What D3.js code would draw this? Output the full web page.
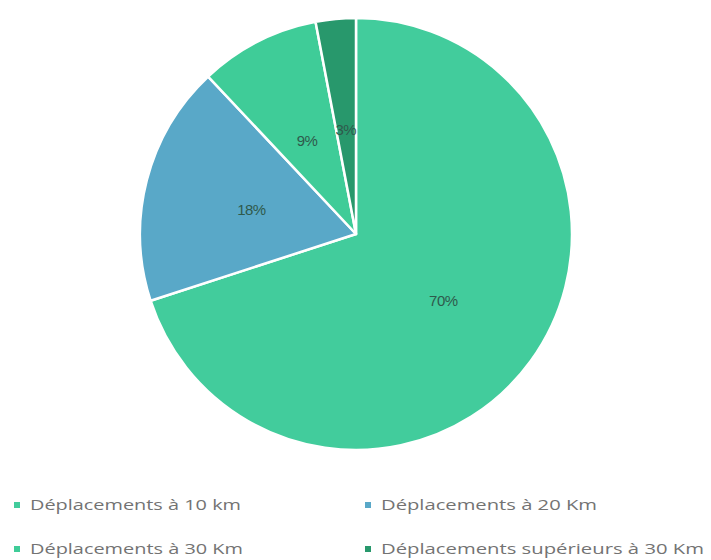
<!DOCTYPE html>
<html>
<head>
<meta charset="utf-8">
<script src="https://cdn.jsdelivr.net/npm/d3@7"></script>
<style>
  html, body { margin: 0; padding: 0; background: #ffffff; }
  svg { display: block; }
</style>
</head>
<body>
<svg id="chart" width="711" height="560"></svg>
<script>
// Trip distance shares
const categories = [
  "Déplacements à 10 km",
  "Déplacements à 20 Km",
  "Déplacements à 30 Km",
  "Déplacements supérieurs à 30 Km"
];
const values = [70, 18, 9, 3];
const labels = ["70%", "18%", "9%", "3%"];
const colors = ["#42cc9c", "#59a8c8", "#3fcc98", "#28986c"];

const svg = d3.select("#chart");
const cx = 356, cy = 234, radius = 216;

const data = categories.map((c, i) => ({ name: c, value: values[i], label: labels[i], color: colors[i] }));

const pie = d3.pie().sort(null).value(d => d.value);
const arc = d3.arc().innerRadius(0).outerRadius(radius);
const labelArc = d3.arc().innerRadius(radius * 0.5).outerRadius(radius * 0.5);

const g = svg.append("g").attr("transform", `translate(${cx},${cy})`);
const arcs = pie(data);

g.selectAll("path.slice")
  .data(arcs)
  .join("path")
  .attr("class", "slice")
  .attr("d", arc)
  .attr("fill", d => d.data.color)
  .attr("stroke", "#ffffff")
  .attr("stroke-width", 2.5)
  .attr("stroke-linejoin", "round");

g.selectAll("text.pct")
  .data(arcs)
  .join("text")
  .attr("class", "pct")
  .attr("transform", d => `translate(${labelArc.centroid(d)})`)
  .attr("text-anchor", "middle")
  .attr("dy", "0.55em")
  .attr("font-family", "'Liberation Sans', Arial, sans-serif")
  .attr("font-size", 15)
  .attr("letter-spacing", -0.5)
  .attr("fill", "#2f5a4c")
  .text(d => d.data.label);

// Legend: two columns, two rows
const legendPos = [
  { x: 14, y: 505 },
  { x: 365, y: 505 },
  { x: 14, y: 549 },
  { x: 365, y: 549 }
];
const legendWidths = [211, 216, 213, 323];

const legend = svg.append("g");
const items = legend.selectAll("g.item")
  .data(data)
  .join("g")
  .attr("class", "item")
  .attr("transform", (d, i) => `translate(${legendPos[i].x},${legendPos[i].y})`);

items.append("rect")
  .attr("x", 0).attr("y", -3)
  .attr("width", 6).attr("height", 6)
  .attr("fill", d => d.color);

items.append("text")
  .attr("x", 16)
  .attr("y", 5)
  .attr("font-family", "'Open Sans', 'Liberation Sans', Arial, sans-serif")
  .attr("font-size", 15)
  .attr("fill", "#737373")
  .attr("textLength", (d, i) => legendWidths[i])
  .attr("lengthAdjust", "spacingAndGlyphs")
  .text(d => d.name);
</script>
</body>
</html>
